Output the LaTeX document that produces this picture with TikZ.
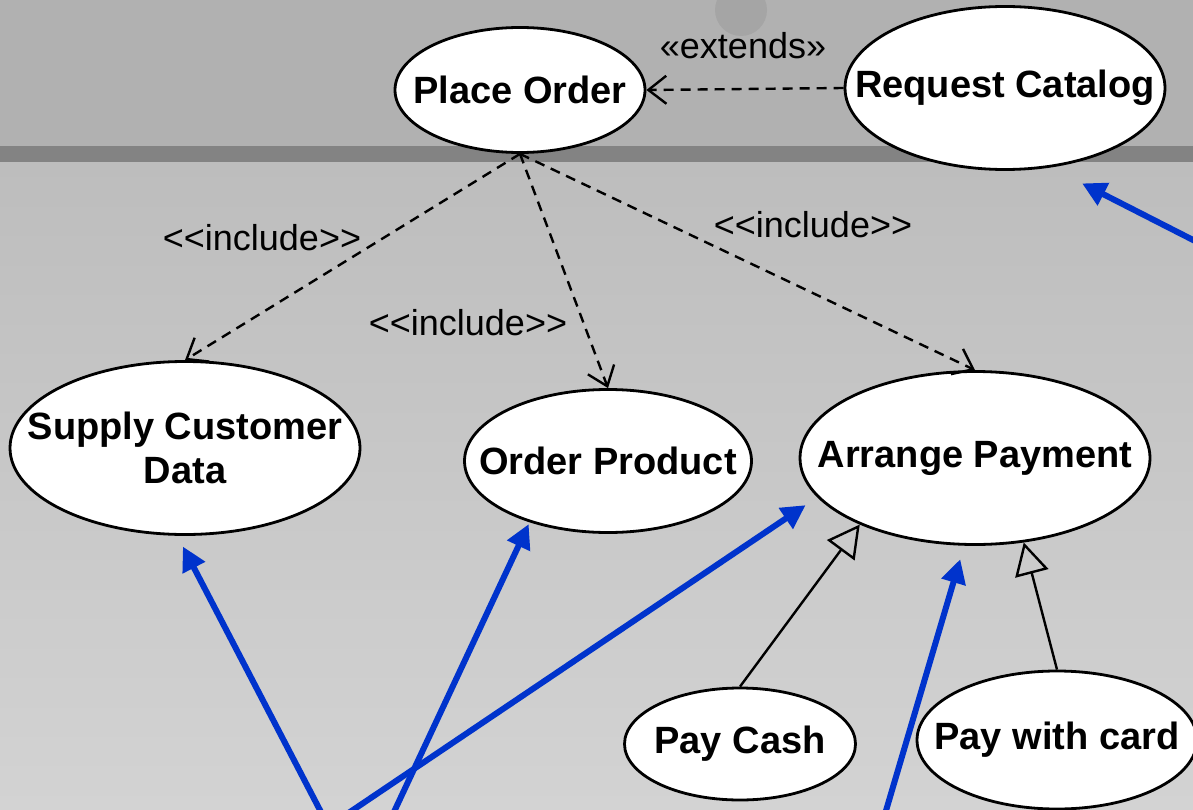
\documentclass[tikz,border=0pt]{standalone}
\usepackage{fontspec}
\setmainfont{Liberation Sans}
\usetikzlibrary{arrows.meta,shapes.geometric}

\definecolor{bgtop}{HTML}{B1B1B1}
\definecolor{bgband}{HTML}{838383}
\definecolor{bglow}{HTML}{BDBDBD}
\definecolor{bgbot}{HTML}{D3D3D3}
\definecolor{markgray}{HTML}{A0A0A0}
\definecolor{assoc}{HTML}{0033CC}

\begin{document}
\begin{tikzpicture}[x=1pt,y=-1pt,
  usecase/.style={ellipse, draw=black, line width=2.8pt, fill=white, inner sep=0pt},
  uctext/.style={font=\fontsize{38}{44}\selectfont\bfseries, align=center, inner sep=0pt},
  stereo/.style={font=\fontsize{36}{40}\selectfont, inner sep=0pt},
  dep/.style={draw=black, line width=2.4pt, dash pattern=on 10pt off 7pt,
    -{Straight Barb[length=18pt,width=28pt,line width=2.4pt]}},
  gen/.style={draw=black, line width=2.4pt,
    -{Triangle[open,length=32pt,width=34pt,line width=2.4pt]}},
  assocline/.style={draw=assoc, line width=6pt,
    -{Triangle[length=24pt,width=24pt]}}
]
\useasboundingbox (0,0) rectangle (1193,810);

% backdrop: upper panel, separator band, lower panel
\fill[bgtop] (0,0) rectangle (1193,146);
\shade[top color=bglow, bottom color=bgbot] (0,162) rectangle (1193,810);
\fill[bgband] (0,146) rectangle (1193,162);
\fill[markgray, opacity=0.7] (741,10) circle (26);

% use cases
\node[usecase, minimum width=250pt, minimum height=125pt,
  label={[uctext]center:Place Order}] (po) at (520,90) {};
\node[usecase, minimum width=320pt, minimum height=163pt,
  label={[uctext]center:Request Catalog}] (rc) at (1005,88) {};
\node[usecase, minimum width=350pt, minimum height=173pt,
  label={[uctext]center:Supply Customer\\Data}] (scd) at (185,448) {};
\node[usecase, minimum width=287pt, minimum height=143pt,
  label={[uctext]center:Order Product}] (op) at (608,461) {};
\node[usecase, minimum width=350pt, minimum height=173pt,
  label={[uctext]center:Arrange Payment}] (ap) at (975,458) {};
\node[usecase, minimum width=231pt, minimum height=112pt,
  label={[uctext]center:Pay Cash}] (pc) at (740,744) {};
\node[usecase, minimum width=280pt, minimum height=138pt,
  label={[uctext]center:Pay with card}] (pwc) at (1057,740) {};

% include / extend dependencies
\draw[dep] (po.south) -- (scd.north);
\draw[dep] (po.south) -- (op.north);
\draw[dep] (po.south) -- (ap.north);
\draw[dep] (rc.west) -- (po.east);

\node[stereo] (inc1) at (262,238) {<\kern0pt<include>\kern0pt>};
\node[stereo] (inc2) at (468,323) {<\kern0pt<include>\kern0pt>};
\node[stereo] (inc3) at (813,225) {<\kern0pt<include>\kern0pt>};
\node[stereo] (ext) at (743,46) {«extends»};

% generalisation of the payment use case
\draw[gen] (pc.north) -- (ap.210);
\draw[gen] (pwc.north) -- (ap.300);

% associations coming from actors below and to the right
\coordinate (f1) at (322,814);
\coordinate (f2) at (393,814);
\coordinate (f3) at (347,814);
\coordinate (f4) at (885,814);
\coordinate (f5) at (1197,242);
\draw[assocline, shorten >=12pt] (f1) -- (scd.265);
\draw[assocline, shorten >=2pt] (f2) -- (op.218);
\draw[assocline, shorten >=14pt] (f3) -- (ap.194);
\draw[assocline, shorten >=14pt] (f4) -- (ap.263);
\draw[assocline, shorten >=35pt] (f5) -- (rc.300);
\end{tikzpicture}
\end{document}
